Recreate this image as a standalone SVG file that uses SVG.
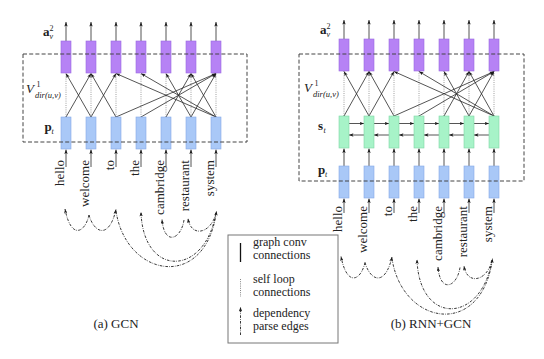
<svg xmlns="http://www.w3.org/2000/svg" width="544" height="359" viewBox="0 0 544 359" font-family="'Liberation Serif','Times New Roman',serif">
<defs>
<marker id="ah" viewBox="0 0 8 6" refX="8" refY="3" markerWidth="4.5" markerHeight="3.4" markerUnits="userSpaceOnUse" orient="auto"><path d="M0,0 L8,3 L0,6 L2,3 Z" fill="#1a1a1a"/></marker>
</defs>
<style>
.pu{fill:#b682f5;stroke:#9a6ae0;stroke-width:0.6}
.bl{fill:#a9c8f7;stroke:#85a9e6;stroke-width:0.6}
.gr{fill:#a7f3c8;stroke:#7fd6a6;stroke-width:0.6}
.ar{stroke:#2a2a2a;stroke-width:0.8;fill:none;marker-end:url(#ah)}
.sl{stroke:#777;stroke-width:0.7;stroke-dasharray:1 1.2;fill:none}
.dp{stroke:#222;stroke-width:0.9;stroke-dasharray:2.6 1.2 0.7 1.2;fill:none;marker-end:url(#ah)}
.box{fill:none;stroke:#444;stroke-width:1;stroke-dasharray:4 2.2}
text{font-family:'Liberation Serif','Times New Roman',serif;fill:#222}
.w{font-size:13px;text-anchor:end}
.b{font-weight:bold;font-size:13px}
.i{font-style:italic}
.sm{font-size:8px}
.lg{font-size:12px}
.cap{font-size:13px;text-anchor:middle}
</style>

<!-- ===== GCN ===== -->
<g id="gcn-connectors">
  <g id="gcn-out">
    <line class="ar" x1="66" y1="41" x2="66" y2="22"/><line class="ar" x1="91" y1="41" x2="91" y2="22"/><line class="ar" x1="116" y1="41" x2="116" y2="22"/><line class="ar" x1="141" y1="41" x2="141" y2="22"/><line class="ar" x1="166" y1="41" x2="166" y2="22"/><line class="ar" x1="191" y1="41" x2="191" y2="22"/><line class="ar" x1="216" y1="41" x2="216" y2="22"/>
  </g>
  <g id="gcn-in">
    <line class="ar" x1="66" y1="167" x2="66" y2="149.5"/><line class="ar" x1="91" y1="167" x2="91" y2="149.5"/><line class="ar" x1="116" y1="167" x2="116" y2="149.5"/><line class="ar" x1="141" y1="167" x2="141" y2="149.5"/><line class="ar" x1="166" y1="167" x2="166" y2="149.5"/><line class="ar" x1="191" y1="167" x2="191" y2="149.5"/><line class="ar" x1="216" y1="167" x2="216" y2="149.5"/>
  </g>
  <g id="gcn-self">
    <line class="sl" x1="66" y1="117" x2="66" y2="73"/><line class="sl" x1="91" y1="117" x2="91" y2="73"/><line class="sl" x1="116" y1="117" x2="116" y2="73"/><line class="sl" x1="141" y1="117" x2="141" y2="73"/><line class="sl" x1="166" y1="117" x2="166" y2="73"/><line class="sl" x1="191" y1="117" x2="191" y2="73"/><line class="sl" x1="216" y1="117" x2="216" y2="73"/>
  </g>
  <g id="gcn-conv">
    <line class="ar" x1="66" y1="117" x2="91" y2="73.5"/><line class="ar" x1="91" y1="117" x2="66" y2="73.5"/>
    <line class="ar" x1="91" y1="117" x2="116" y2="73.5"/><line class="ar" x1="116" y1="117" x2="91" y2="73.5"/>
    <line class="ar" x1="116" y1="117" x2="216" y2="73.5"/><line class="ar" x1="216" y1="117" x2="116" y2="73.5"/>
    <line class="ar" x1="141" y1="117" x2="216" y2="73.5"/><line class="ar" x1="216" y1="117" x2="141" y2="73.5"/>
    <line class="ar" x1="166" y1="117" x2="191" y2="73.5"/><line class="ar" x1="191" y1="117" x2="166" y2="73.5"/>
    <line class="ar" x1="191" y1="117" x2="216" y2="73.5"/><line class="ar" x1="216" y1="117" x2="191" y2="73.5"/>
  </g>
  <g id="gcn-dep">
    <path class="dp" d="M89,215 C85,233 71,240 65,209"/>
    <path class="dp" d="M89,215 C94,233 109,240 116,209.5"/>
    <path class="dp" d="M116,211 C126,278 206,292 216.5,211"/>
    <path class="dp" d="M216,213 C205,277 143,278 141,212"/>
    <path class="dp" d="M184,220 C181,240 164,246 162,219.5"/>
    <path class="dp" d="M216,213 C211,234 191,238 188,218.5"/>
  </g>
</g>

<g id="gcn-a0"><rect class="pu" x="61" y="41" width="10" height="32"/></g>
<g id="gcn-a1"><rect class="pu" x="86" y="41" width="10" height="32"/></g>
<g id="gcn-a2"><rect class="pu" x="111" y="41" width="10" height="32"/></g>
<g id="gcn-a3"><rect class="pu" x="136" y="41" width="10" height="32"/></g>
<g id="gcn-a4"><rect class="pu" x="161" y="41" width="10" height="32"/></g>
<g id="gcn-a5"><rect class="pu" x="186" y="41" width="10" height="32"/></g>
<g id="gcn-a6"><rect class="pu" x="211" y="41" width="10" height="32"/></g>
<g id="gcn-p0"><rect class="bl" x="61" y="117" width="10" height="32"/></g>
<g id="gcn-p1"><rect class="bl" x="86" y="117" width="10" height="32"/></g>
<g id="gcn-p2"><rect class="bl" x="111" y="117" width="10" height="32"/></g>
<g id="gcn-p3"><rect class="bl" x="136" y="117" width="10" height="32"/></g>
<g id="gcn-p4"><rect class="bl" x="161" y="117" width="10" height="32"/></g>
<g id="gcn-p5"><rect class="bl" x="186" y="117" width="10" height="32"/></g>
<g id="gcn-p6"><rect class="bl" x="211" y="117" width="10" height="32"/></g>
<g id="gcn-frame"><rect class="box" x="23" y="54" width="224" height="88"/></g>

<g id="gcn-labels">
  <text class="b" x="43" y="36">a</text><text class="sm" x="49.5" y="30.5">2</text><text class="sm i" x="49.5" y="38.5">v</text>
  <text class="i" x="26" y="93" font-size="13">V</text><text class="sm" x="36.5" y="87">1</text><text class="i" x="35" y="97.5" font-size="8.5">dir(u,v)</text>
  <text class="b" x="44.5" y="131">p</text><text class="sm i" x="51.5" y="133.5">t</text>
</g>
<g id="gcn-words">
  <text class="w" transform="translate(63.5,160) rotate(-90)">hello</text>
  <text class="w" transform="translate(88.5,160) rotate(-90)">welcome</text>
  <text class="w" transform="translate(113.5,160) rotate(-90)">to</text>
  <text class="w" transform="translate(138.5,160) rotate(-90)">the</text>
  <text class="w" transform="translate(163.5,160) rotate(-90)">cambridge</text>
  <text class="w" transform="translate(188.5,160) rotate(-90)">restaurant</text>
  <text class="w" transform="translate(213.5,160) rotate(-90)">system</text>
</g>

<!-- ===== RNN+GCN ===== -->
<g id="rnn-connectors">
  <g id="rnn-out">
    <line class="ar" x1="344" y1="39" x2="344" y2="20"/><line class="ar" x1="369" y1="39" x2="369" y2="20"/><line class="ar" x1="394" y1="39" x2="394" y2="20"/><line class="ar" x1="419" y1="39" x2="419" y2="20"/><line class="ar" x1="444" y1="39" x2="444" y2="20"/><line class="ar" x1="469" y1="39" x2="469" y2="20"/><line class="ar" x1="494" y1="39" x2="494" y2="20"/>
  </g>
  <g id="rnn-ps">
    <line class="ar" x1="344" y1="166" x2="344" y2="148.5"/><line class="ar" x1="369" y1="166" x2="369" y2="148.5"/><line class="ar" x1="394" y1="166" x2="394" y2="148.5"/><line class="ar" x1="419" y1="166" x2="419" y2="148.5"/><line class="ar" x1="444" y1="166" x2="444" y2="148.5"/><line class="ar" x1="469" y1="166" x2="469" y2="148.5"/><line class="ar" x1="494" y1="166" x2="494" y2="148.5"/>
  </g>
  <g id="rnn-in">
    <line class="ar" x1="344" y1="213" x2="344" y2="198.5"/><line class="ar" x1="369" y1="213" x2="369" y2="198.5"/><line class="ar" x1="394" y1="213" x2="394" y2="198.5"/><line class="ar" x1="419" y1="213" x2="419" y2="198.5"/><line class="ar" x1="444" y1="213" x2="444" y2="198.5"/><line class="ar" x1="469" y1="213" x2="469" y2="198.5"/><line class="ar" x1="494" y1="213" x2="494" y2="198.5"/>
  </g>
  <g id="rnn-fwd">
    <line class="ar" x1="349" y1="123.5" x2="364" y2="123.5"/><line class="ar" x1="374" y1="123.5" x2="389" y2="123.5"/><line class="ar" x1="399" y1="123.5" x2="414" y2="123.5"/><line class="ar" x1="424" y1="123.5" x2="439" y2="123.5"/><line class="ar" x1="449" y1="123.5" x2="464" y2="123.5"/><line class="ar" x1="474" y1="123.5" x2="489" y2="123.5"/>
  </g>
  <g id="rnn-bwd">
    <line class="ar" x1="364" y1="135" x2="349" y2="135"/><line class="ar" x1="389" y1="135" x2="374" y2="135"/><line class="ar" x1="414" y1="135" x2="399" y2="135"/><line class="ar" x1="439" y1="135" x2="424" y2="135"/><line class="ar" x1="464" y1="135" x2="449" y2="135"/><line class="ar" x1="489" y1="135" x2="474" y2="135"/>
  </g>
  <g id="rnn-self">
    <line class="sl" x1="344" y1="116" x2="344" y2="71"/><line class="sl" x1="369" y1="116" x2="369" y2="71"/><line class="sl" x1="394" y1="116" x2="394" y2="71"/><line class="sl" x1="419" y1="116" x2="419" y2="71"/><line class="sl" x1="444" y1="116" x2="444" y2="71"/><line class="sl" x1="469" y1="116" x2="469" y2="71"/><line class="sl" x1="494" y1="116" x2="494" y2="71"/>
  </g>
  <g id="rnn-conv">
    <line class="ar" x1="344" y1="116" x2="369" y2="71.5"/><line class="ar" x1="369" y1="116" x2="344" y2="71.5"/>
    <line class="ar" x1="369" y1="116" x2="394" y2="71.5"/><line class="ar" x1="394" y1="116" x2="369" y2="71.5"/>
    <line class="ar" x1="394" y1="116" x2="494" y2="71.5"/><line class="ar" x1="494" y1="116" x2="394" y2="71.5"/>
    <line class="ar" x1="419" y1="116" x2="494" y2="71.5"/><line class="ar" x1="494" y1="116" x2="419" y2="71.5"/>
    <line class="ar" x1="444" y1="116" x2="469" y2="71.5"/><line class="ar" x1="469" y1="116" x2="444" y2="71.5"/>
    <line class="ar" x1="469" y1="116" x2="494" y2="71.5"/><line class="ar" x1="494" y1="116" x2="469" y2="71.5"/>
  </g>
  <g id="rnn-dep" transform="translate(276,47.5)">
    <path class="dp" d="M89,215 C85,233 71,240 65,209"/>
    <path class="dp" d="M89,215 C94,233 109,240 116,209.5"/>
    <path class="dp" d="M116,211 C126,278 206,292 216.5,211"/>
    <path class="dp" d="M216,213 C205,277 143,278 141,212"/>
    <path class="dp" d="M184,220 C181,240 164,246 162,219.5"/>
    <path class="dp" d="M216,213 C211,234 191,238 188,218.5"/>
  </g>
</g>

<g id="rnn-a0"><rect class="pu" x="339" y="39" width="10" height="32"/></g>
<g id="rnn-a1"><rect class="pu" x="364" y="39" width="10" height="32"/></g>
<g id="rnn-a2"><rect class="pu" x="389" y="39" width="10" height="32"/></g>
<g id="rnn-a3"><rect class="pu" x="414" y="39" width="10" height="32"/></g>
<g id="rnn-a4"><rect class="pu" x="439" y="39" width="10" height="32"/></g>
<g id="rnn-a5"><rect class="pu" x="464" y="39" width="10" height="32"/></g>
<g id="rnn-a6"><rect class="pu" x="489" y="39" width="10" height="32"/></g>
<g id="rnn-s0"><rect class="gr" x="339" y="116" width="10" height="32"/></g>
<g id="rnn-s1"><rect class="gr" x="364" y="116" width="10" height="32"/></g>
<g id="rnn-s2"><rect class="gr" x="389" y="116" width="10" height="32"/></g>
<g id="rnn-s3"><rect class="gr" x="414" y="116" width="10" height="32"/></g>
<g id="rnn-s4"><rect class="gr" x="439" y="116" width="10" height="32"/></g>
<g id="rnn-s5"><rect class="gr" x="464" y="116" width="10" height="32"/></g>
<g id="rnn-s6"><rect class="gr" x="489" y="116" width="10" height="32"/></g>
<g id="rnn-p0"><rect class="bl" x="339" y="166" width="10" height="32"/></g>
<g id="rnn-p1"><rect class="bl" x="364" y="166" width="10" height="32"/></g>
<g id="rnn-p2"><rect class="bl" x="389" y="166" width="10" height="32"/></g>
<g id="rnn-p3"><rect class="bl" x="414" y="166" width="10" height="32"/></g>
<g id="rnn-p4"><rect class="bl" x="439" y="166" width="10" height="32"/></g>
<g id="rnn-p5"><rect class="bl" x="464" y="166" width="10" height="32"/></g>
<g id="rnn-p6"><rect class="bl" x="489" y="166" width="10" height="32"/></g>
<g id="rnn-frame"><rect class="box" x="299" y="54" width="225" height="127"/></g>

<g id="rnn-labels">
  <text class="b" x="320" y="34">a</text><text class="sm" x="326.5" y="28.5">2</text><text class="sm i" x="326.5" y="36.5">v</text>
  <text class="i" x="304" y="92" font-size="13">V</text><text class="sm" x="314.5" y="86">1</text><text class="i" x="313" y="96.5" font-size="8.5">dir(u,v)</text>
  <text class="b" x="318" y="130">s</text><text class="sm i" x="323.5" y="132.5">t</text>
  <text class="b" x="318" y="174">p</text><text class="sm i" x="325" y="176.5">t</text>
</g>
<g id="rnn-words">
  <text class="w" transform="translate(341.5,206) rotate(-90)">hello</text>
  <text class="w" transform="translate(366.5,206) rotate(-90)">welcome</text>
  <text class="w" transform="translate(391.5,206) rotate(-90)">to</text>
  <text class="w" transform="translate(416.5,206) rotate(-90)">the</text>
  <text class="w" transform="translate(441.5,206) rotate(-90)">cambridge</text>
  <text class="w" transform="translate(466.5,206) rotate(-90)">restaurant</text>
  <text class="w" transform="translate(491.5,206) rotate(-90)">system</text>
</g>

<!-- ===== Legend ===== -->
<g id="legend">
  <rect x="228" y="235" width="110" height="108" fill="#fff" stroke="#777" stroke-width="1"/>
  <line x1="240.5" y1="243" x2="240.5" y2="262" stroke="#111" stroke-width="1.3"/>
  <line x1="240.5" y1="279" x2="240.5" y2="297" stroke="#666" stroke-width="0.8" stroke-dasharray="1 1.2"/>
  <line x1="240.5" y1="335" x2="240.5" y2="307" class="dp"/>
  <text class="lg" x="253" y="246">graph conv</text>
  <text class="lg" x="253" y="259">connections</text>
  <text class="lg" x="253" y="283">self loop</text>
  <text class="lg" x="253" y="296">connections</text>
  <text class="lg" x="253" y="317">dependency</text>
  <text class="lg" x="253" y="330">parse edges</text>
</g>

<g id="captions">
  <text class="cap" x="116" y="328">(a) GCN</text>
  <text class="cap" x="431" y="328">(b) RNN+GCN</text>
</g>
</svg>
